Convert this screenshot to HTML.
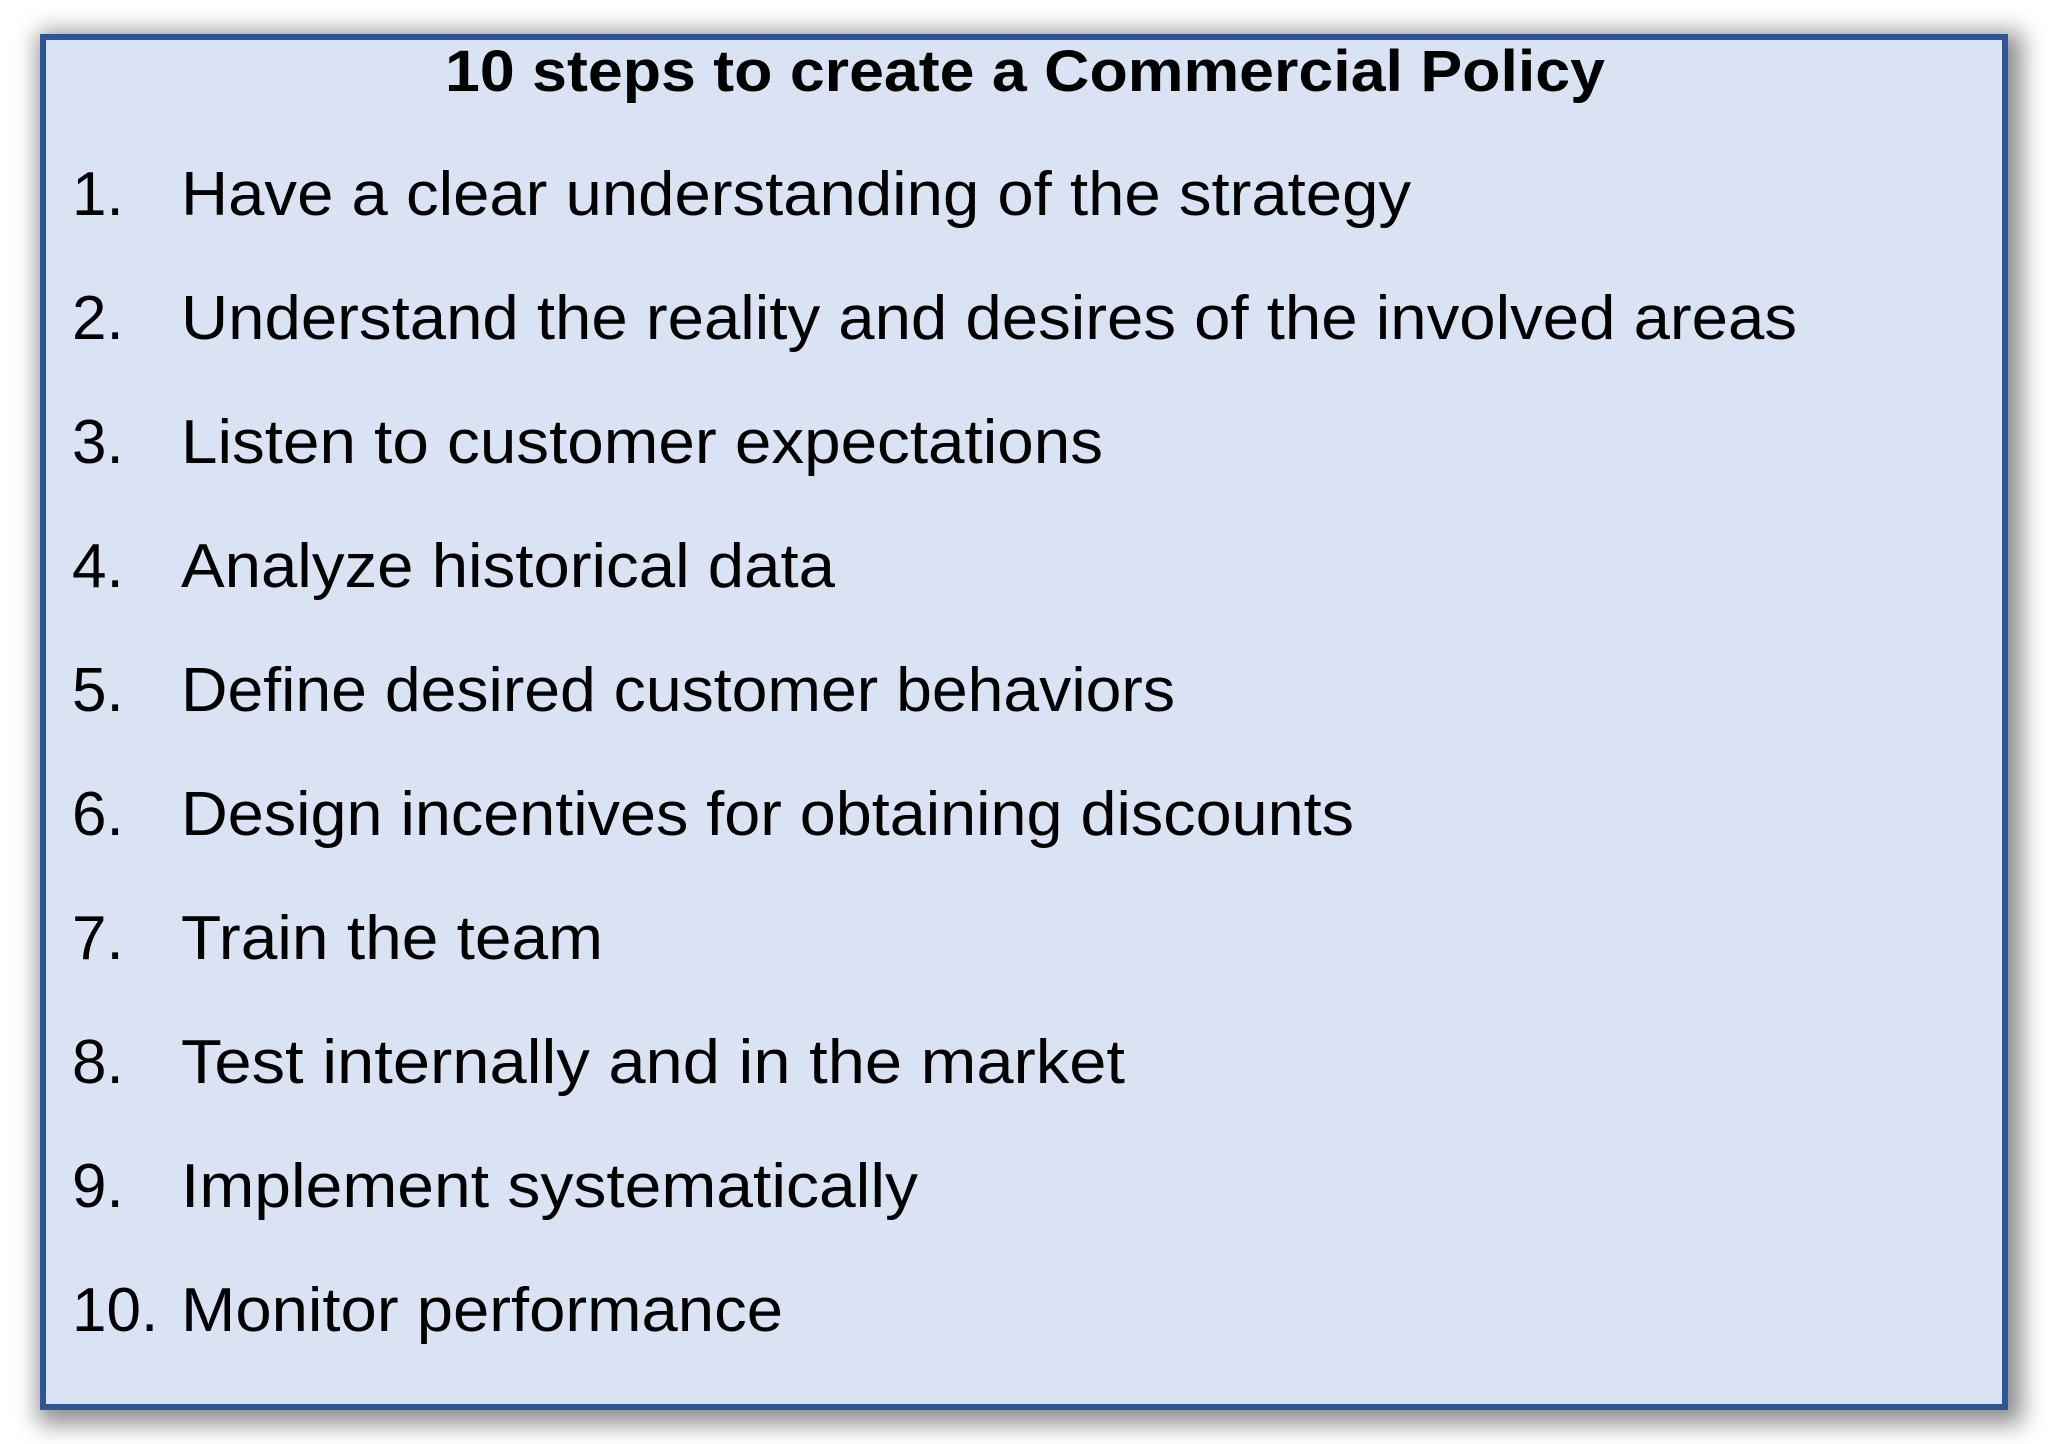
<!DOCTYPE html>
<html><head><meta charset="utf-8"><style>
html,body{margin:0;padding:0;background:#fff;width:2048px;height:1444px;overflow:hidden}
.box{position:absolute;left:40px;top:34px;width:1956px;height:1364px;background:#dae3f3;border:6px solid #2f5597;box-shadow:6px 6px 22px 8px rgba(0,0,0,0.45)}
svg{position:absolute;left:0;top:0}
text{font-family:"Liberation Sans","DejaVu Sans",sans-serif;fill:#000}
</style></head><body>
<div class="box"></div>
<svg width="2048" height="1444">
<text x="445" y="91" font-size="58" font-weight="bold" textLength="1160" lengthAdjust="spacingAndGlyphs">10 steps to create a Commercial Policy</text>
<g font-size="62">
<text x="72" y="215">1.</text><text x="181" y="215" textLength="1230" lengthAdjust="spacingAndGlyphs">Have a clear understanding of the strategy</text>
<text x="72" y="339">2.</text><text x="181" y="339" textLength="1616" lengthAdjust="spacingAndGlyphs">Understand the reality and desires of the involved areas</text>
<text x="72" y="463">3.</text><text x="181" y="463" textLength="922" lengthAdjust="spacingAndGlyphs">Listen to customer expectations</text>
<text x="72" y="587">4.</text><text x="181" y="587" textLength="654" lengthAdjust="spacingAndGlyphs">Analyze historical data</text>
<text x="72" y="711">5.</text><text x="181" y="711" textLength="994" lengthAdjust="spacingAndGlyphs">Define desired customer behaviors</text>
<text x="72" y="835">6.</text><text x="181" y="835" textLength="1173" lengthAdjust="spacingAndGlyphs">Design incentives for obtaining discounts</text>
<text x="72" y="959">7.</text><text x="181" y="959" textLength="422" lengthAdjust="spacingAndGlyphs">Train the team</text>
<text x="72" y="1083">8.</text><text x="181" y="1083" textLength="944" lengthAdjust="spacingAndGlyphs">Test internally and in the market</text>
<text x="72" y="1207">9.</text><text x="181" y="1207" textLength="737" lengthAdjust="spacingAndGlyphs">Implement systematically</text>
<text x="72" y="1331">10.</text><text x="181" y="1331" textLength="602" lengthAdjust="spacingAndGlyphs">Monitor performance</text>
</g>
</svg>
</body></html>
